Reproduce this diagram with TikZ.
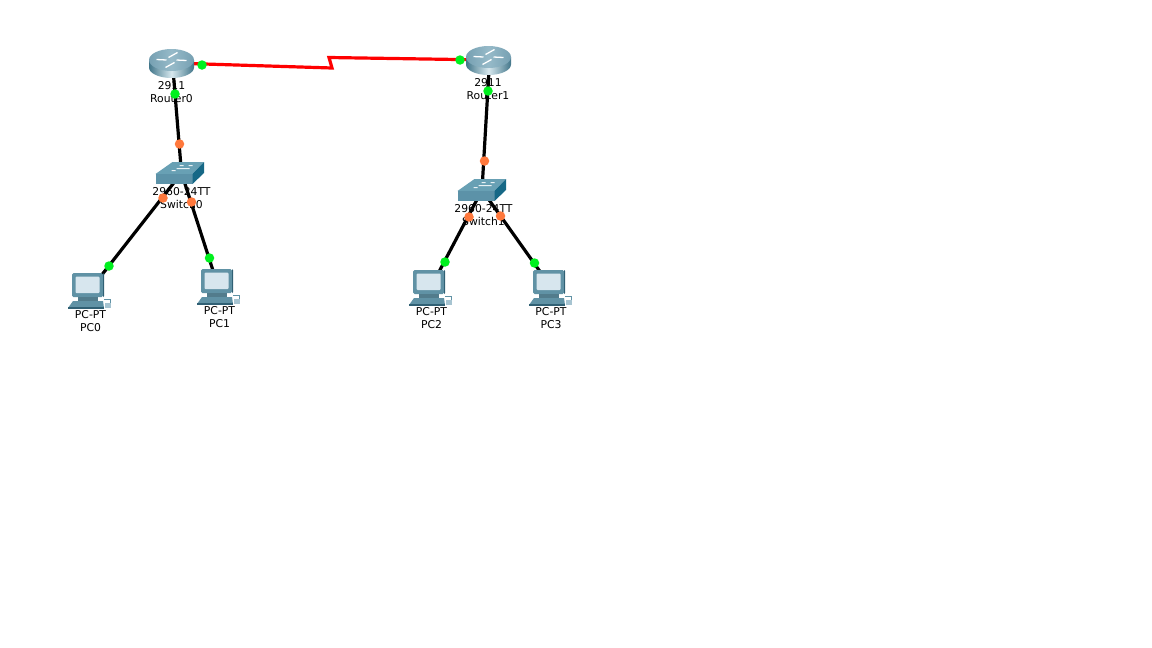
\documentclass[tikz,border=0pt]{standalone}
\usepackage{fontspec}
\setmainfont{DejaVu Sans}
\definecolor{rtop}{RGB}{118,160,178}
\definecolor{rtopl}{RGB}{150,186,200}
\definecolor{rdark}{RGB}{66,118,138}
\definecolor{rlight}{RGB}{215,232,238}
\definecolor{stop}{RGB}{104,160,180}
\definecolor{sfront}{RGB}{92,146,168}
\definecolor{sside}{RGB}{22,104,134}
\definecolor{pcbody}{RGB}{96,146,165}
\definecolor{pcscreen}{RGB}{215,230,238}
\definecolor{pcdark}{RGB}{48,96,116}
\definecolor{greendot}{RGB}{0,240,30}
\definecolor{orangedot}{RGB}{255,120,60}
\tikzset{
  x=1pt,y=-1pt,
  anchorpt/.style={inner sep=0pt,minimum size=0pt},
  cable/.style={line width=3.2pt,black},
  serial/.style={line width=3.2pt,red,line join=miter},
  gdot/.style={circle,fill=greendot,inner sep=0pt,minimum size=9.5pt},
  odot/.style={circle,fill=orangedot,inner sep=0pt,minimum size=9.5pt},
  lab/.style={font=\fontsize{10.8}{12.3}\selectfont,align=center,inner sep=0pt,text=black},
  routerpic/.pic={
    \shade[left color=rdark,right color=rdark,middle color=rlight]
      (-22.5,-3.5) -- (-22.5,4) arc[start angle=180,end angle=0,x radius=22.5,y radius=10.5] -- (22.5,-3.5) -- cycle;
    \shade[left color=rtop,right color=rtop,middle color=rtopl] (0,-3.5) ellipse[x radius=22.5,y radius=11];
    \draw[white,line width=1.3pt] (-15,-4) -- (-5,-3.5) (15,-3) -- (5,-3.5) (-3,-6) -- (6,-11) (3,-1) -- (-6,4);
  },
  switchpic/.pic={
    \fill[stop] (-25,1) -- (-8,-11) -- (23.5,-11) -- (12,1) -- cycle;
    \fill[sfront] (-25,1) -- (12,1) -- (12,11) -- (-25,11) -- cycle;
    \fill[sside] (12,1) -- (23.5,-11) -- (23.5,0) -- (12,11) -- cycle;
    \fill[white!85!stop] (-9,-3) rectangle (-5,-2) (8,-8) rectangle (12,-7) (-1,-8) rectangle (3,-7) (-4,-5) rectangle (9,-4);
  },
  pcpic/.pic={
    \fill[pcbody,rounded corners=1.5pt] (-18,-17) rectangle (13,7);
    \fill[pcscreen,rounded corners=1pt] (-14.5,-13.5) rectangle (9.5,3);
    \fill[pcdark] (13,-17) -- (14,-16) -- (14,6) -- (13,7) -- cycle;
    \fill[pcbody!85!black] (-12,7) rectangle (8,11);
    \fill[pcbody] (-22,18) -- (-17,11) -- (13,11) -- (14,18) -- cycle;
    \fill[pcdark] (-22,17) rectangle (14,18.5);
    \draw[pcbody,line width=.8pt] (14,9) -- (20,9) -- (20,13);
    \fill[pcscreen!60!pcbody] (15,13) rectangle (21,18);
  }
}
\begin{document}
\begin{tikzpicture}
\useasboundingbox (0,0) rectangle (1152,648);
\fill[white] (0,0) rectangle (1152,648);
\node[anchorpt] (router0) at (172.5,63) {};
\node[anchorpt] (router1) at (489.6,60) {};
\node[anchorpt] (switch0) at (181.5,173) {};
\node[anchorpt] (switch1) at (482,190) {};
\node[anchorpt] (pc0) at (90,290) {};
\node[anchorpt] (pc1) at (218,286) {};
\node[anchorpt] (pc2) at (431,287) {};
\node[anchorpt] (pc3) at (551,287) {};
\coordinate (zig0) at (332,68);
\coordinate (zig1) at (329,57.5);
\draw[cable] (router0.center) -- (switch0.center);
\draw[cable] (router1.center) -- (switch1.center);
\draw[cable] (switch0.center) -- (pc0.center);
\draw[cable] (switch0.center) -- (pc1.center);
\draw[cable] (switch1.center) -- (pc2.center);
\draw[cable] (switch1.center) -- (pc3.center);
\draw[serial] (router0.center) -- (zig0) -- (zig1) -- (router1.center);
\pic at (171.5,63.5) {routerpic};
\pic at (488.5,60.5) {routerpic};
\pic at (180.5,173) {switchpic};
\pic at (482.5,190) {switchpic};
\pic at (90,290) {pcpic};
\pic at (219,286) {pcpic};
\pic at (431,287) {pcpic};
\pic at (551,287) {pcpic};
\node[lab] (lr0) at (171.5,92) {2911\\Router0};
\node[lab] (lr1) at (488,89) {2911\\Router1};
\node[lab] (ls0) at (181.5,198) {2960-24TT\\Switch0};
\node[lab] (ls1) at (483.5,215) {2960-24TT\\Switch1};
\node[lab] (lp0) at (90.5,321) {PC-PT\\PC0};
\node[lab] (lp1) at (219.5,317) {PC-PT\\PC1};
\node[lab] (lp2) at (431.5,318) {PC-PT\\PC2};
\node[lab] (lp3) at (551,318) {PC-PT\\PC3};
\node[gdot] (d1) at (202,65) {};
\node[gdot] (d2) at (460,60) {};
\node[gdot] (d3) at (175,94) {};
\node[odot] (d4) at (179.5,144) {};
\node[gdot] (d5) at (488,91) {};
\node[odot] (d6) at (484.5,161) {};
\node[odot] (d7) at (163,198) {};
\node[gdot] (d8) at (109,266) {};
\node[odot] (d9) at (191.5,202) {};
\node[gdot] (d10) at (209.5,258) {};
\node[odot] (d11) at (469,217) {};
\node[gdot] (d12) at (445,262) {};
\node[odot] (d13) at (500.5,216) {};
\node[gdot] (d14) at (534.5,263) {};
\end{tikzpicture}
\end{document}
